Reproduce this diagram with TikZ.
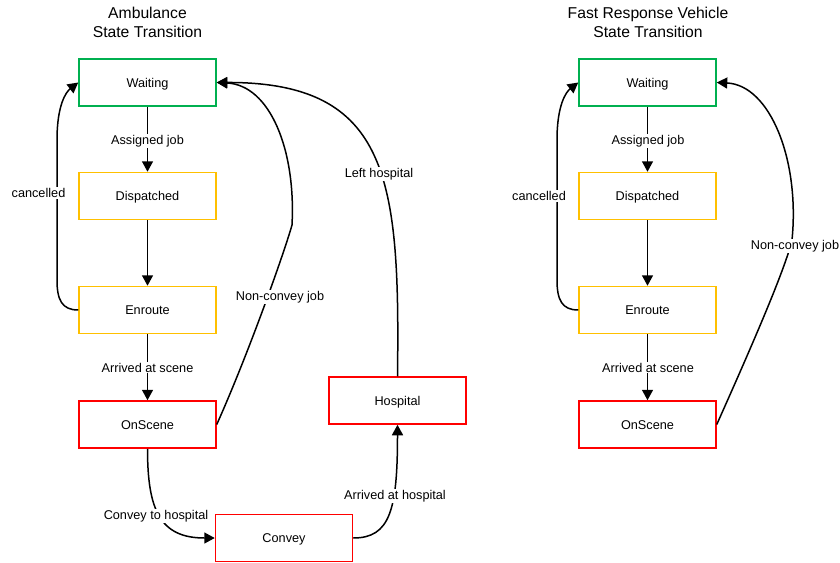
\documentclass[tikz,border=0pt]{standalone}
\usepackage{fontspec}
\setmainfont{Liberation Sans}
\usetikzlibrary{arrows.meta}
\definecolor{boxgreen}{RGB}{0,176,80}
\definecolor{boxyellow}{RGB}{255,192,0}
\definecolor{boxred}{RGB}{255,0,0}
\begin{document}
\begin{tikzpicture}[x=1pt,y=-1pt,
  state/.style={draw, line width=1.5pt, minimum width=137pt, minimum height=47pt, inner sep=0pt, fill=white, text height=9.1pt, text depth=0pt, font=\fontsize{12.7}{15}\selectfont},
  stgreen/.style={state, draw=boxgreen},
  styellow/.style={state, draw=boxyellow},
  stred/.style={state, draw=boxred},
  edge/.style={line width=1.5pt, -{Triangle[length=10.5pt,width=11pt]}},
  lbl/.style={fill=white, inner sep=1pt, anchor=base, font=\fontsize{12.7}{15}\selectfont},
  title/.style={anchor=base, font=\fontsize{15.7}{18}\selectfont}]
\useasboundingbox (0,0) rectangle (840,562);

% titles
\node[title] (t1a) at (147.5,18.3) {Ambulance};
\node[title] (t1b) at (147.5,37.3) {State Transition};
\node[title] (t2a) at (648,18.3) {Fast Response Vehicle};
\node[title] (t2b) at (648,37.3) {State Transition};

% ambulance states
\node[stgreen] (aw) at (147.5,82.5) {Waiting};
\node[styellow] (ad) at (147.5,196) {Dispatched};
\node[styellow] (ae) at (147.5,310) {Enroute};
\node[stred] (ao) at (147.5,424.5) {OnScene};
\node[stred] (ac) at (284,538) {Convey};
\node[stred] (ah) at (397.5,400.5) {Hospital};

% FRV states
\node[stgreen] (fw) at (647.5,82.5) {Waiting};
\node[styellow] (fd) at (647.5,196) {Dispatched};
\node[styellow] (fe) at (647.5,310) {Enroute};
\node[stred] (fo) at (647.5,424.5) {OnScene};

% ambulance edges
\draw[edge] (aw) -- (ad);
\draw[edge] (ad) -- (ae);
\draw[edge] (ae) -- (ao);
\draw[edge] (ae.west) .. controls (62,310) and (57,300) .. (57,280) -- (57,140) .. controls (57,105) and (66,92) .. (aw.west);
\draw[edge] (ao.east) .. controls (250,350) and (285,250) .. (292,225) .. controls (296,150) and (270,85) .. (aw.east);
\draw[edge] (ah.north) .. controls (400,180) and (390,82) .. (aw.east);
\draw[edge] (ao.south) .. controls (147.5,510) and (160,538) .. (ac.west);
\draw[edge] (ac.east) .. controls (390,538) and (397.5,510) .. (ah.south);

% FRV edges
\draw[edge] (fw) -- (fd);
\draw[edge] (fd) -- (fe);
\draw[edge] (fe) -- (fo);
\draw[edge] (fe.west) .. controls (562,310) and (557,300) .. (557,280) -- (557,140) .. controls (557,105) and (566,92) .. (fw.west);
\draw[edge] (fo.east) .. controls (750,350) and (785,270) .. (792,240) .. controls (800,160) and (770,85) .. (fw.east);

% labels (at baselines)
\node[lbl] (l1) at (147.5,144) {Assigned job};
\node[lbl] (l2) at (147.5,372) {Arrived at scene};
\node[lbl] (l3) at (38.5,197.5) {cancelled};
\node[lbl] (l4) at (280,300.5) {Non-convey job};
\node[lbl] (l5) at (379,177.5) {Left hospital};
\node[lbl] (l6) at (156,519.5) {Convey to hospital};
\node[lbl] (l7) at (395,499) {Arrived at hospital};

\node[lbl] (m1) at (648,144) {Assigned job};
\node[lbl] (m2) at (648,372) {Arrived at scene};
\node[lbl] (m3) at (539,200.5) {cancelled};
\node[lbl] (m4) at (795,249.5) {Non-convey job};
\end{tikzpicture}
\end{document}
